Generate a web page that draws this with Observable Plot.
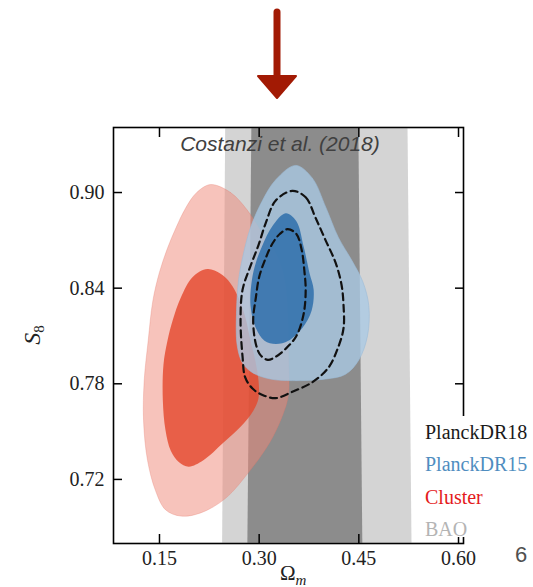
<!DOCTYPE html>
<html><head><meta charset="utf-8">
<script src="https://cdn.jsdelivr.net/npm/d3@7"></script>
<script src="https://cdn.jsdelivr.net/npm/@observablehq/plot@0.6"></script>
<style>
html,body{margin:0;padding:0;background:#fff;}
#wrap{position:relative;width:533px;height:587px;overflow:hidden;}
#arrow{position:absolute;left:0;top:0;}
</style></head><body>
<div id="wrap"></div>
<script>
// ---- data (Omega_m, S8) ----
const xTicks = [0.15, 0.30, 0.45, 0.60];
const yTicks = [0.72, 0.78, 0.84, 0.90];

const clusterOuter = [[0.227,0.905],[0.257,0.900],[0.282,0.889],[0.305,0.874],[0.326,0.861],[0.338,0.845],[0.343,0.820],[0.344,0.795],[0.344,0.773],[0.335,0.760],[0.317,0.744],[0.287,0.726],[0.249,0.708],[0.212,0.699],[0.182,0.697],[0.159,0.701],[0.144,0.713],[0.132,0.732],[0.126,0.757],[0.127,0.782],[0.133,0.807],[0.140,0.832],[0.150,0.850],[0.162,0.865],[0.175,0.878],[0.189,0.890],[0.206,0.900]];
const clusterInner = [[0.222,0.852],[0.242,0.849],[0.257,0.843],[0.269,0.834],[0.279,0.822],[0.287,0.807],[0.294,0.795],[0.299,0.782],[0.299,0.771],[0.291,0.763],[0.272,0.753],[0.246,0.743],[0.216,0.732],[0.194,0.728],[0.179,0.731],[0.167,0.738],[0.159,0.751],[0.155,0.770],[0.156,0.792],[0.162,0.807],[0.170,0.820],[0.182,0.834],[0.200,0.847]];
const dr15Outer = [[0.355,0.917],[0.380,0.909],[0.400,0.891],[0.419,0.872],[0.440,0.857],[0.456,0.844],[0.465,0.829],[0.463,0.810],[0.450,0.795],[0.430,0.786],[0.400,0.783],[0.350,0.782],[0.317,0.783],[0.290,0.787],[0.275,0.793],[0.267,0.804],[0.266,0.826],[0.269,0.845],[0.275,0.859],[0.287,0.878],[0.305,0.895],[0.325,0.908]];
const dr15Inner = [[0.340,0.887],[0.356,0.882],[0.367,0.866],[0.376,0.849],[0.382,0.839],[0.379,0.826],[0.365,0.815],[0.344,0.807],[0.325,0.805],[0.308,0.807],[0.295,0.815],[0.287,0.829],[0.289,0.845],[0.295,0.856],[0.305,0.867],[0.320,0.879]];
const dr18Outer = [[0.350,0.901],[0.370,0.897],[0.385,0.884],[0.400,0.870],[0.415,0.856],[0.424,0.842],[0.427,0.829],[0.427,0.815],[0.419,0.803],[0.404,0.790],[0.380,0.781],[0.350,0.775],[0.325,0.771],[0.305,0.773],[0.290,0.777],[0.279,0.784],[0.275,0.797],[0.272,0.820],[0.275,0.839],[0.287,0.854],[0.299,0.867],[0.310,0.881],[0.325,0.895]];
const dr18Inner = [[0.343,0.877],[0.356,0.874],[0.364,0.864],[0.368,0.851],[0.370,0.839],[0.367,0.824],[0.356,0.810],[0.340,0.802],[0.325,0.797],[0.313,0.795],[0.302,0.798],[0.295,0.805],[0.291,0.820],[0.295,0.834],[0.300,0.847],[0.310,0.859],[0.320,0.868],[0.331,0.874]];
const baoLight = [{s8:0.68, lo:0.245, hi:0.530},{s8:0.94, lo:0.2496, hi:0.524}];
const baoDark  = [{s8:0.68, lo:0.283, hi:0.456},{s8:0.94, lo:0.289, hi:0.450}];

const legendLabels = ["PlanckDR18","PlanckDR15","Cluster","BAO"];
const legendColors = ["#1a1a1a","#4f8dc0","#e41a1c","#b4b4b4"];
const titleText = "Costanzi et al. (2018)";
const slideNumber = "6";

const serif = "'Liberation Serif','Times New Roman',serif";
const sans = "'Liberation Sans',Arial,sans-serif";

const blob = (pts, o) => Plot.line(pts, {curve: "catmull-rom-closed", ...o});

const chart = Plot.plot({
  width: 533, height: 587,
  marginLeft: 113, marginRight: 70, marginTop: 127, marginBottom: 44,
  x: {domain: [0.0808, 0.6075]},
  y: {domain: [0.6798, 0.9408]},
  style: {fontFamily: serif, fontSize: "20px", color: "black", background: "transparent"},
  marks: [
    Plot.areaX(baoLight, {y: "s8", x1: "lo", x2: "hi", fill: "#d4d4d4"}),
    Plot.areaX(baoDark, {y: "s8", x1: "lo", x2: "hi", fill: "#8c8c8c"}),
    blob(clusterOuter, {fill: "#f08878", fillOpacity: 0.5, stroke: "#e47a6a", strokeOpacity: 0.5, strokeWidth: 0.6}),
    blob(clusterInner, {fill: "#e4492e", fillOpacity: 0.82, stroke: "none"}),
    blob(dr15Outer, {fill: "#a9c9e4", fillOpacity: 0.78, stroke: "#9cbcd8", strokeWidth: 0.6}),
    blob(dr15Inner, {fill: "#2e6fab", fillOpacity: 0.85, stroke: "none"}),
    blob(dr18Outer, {fill: "none", stroke: "#111", strokeWidth: 2.2, strokeDasharray: "7,4.5"}),
    blob(dr18Inner, {fill: "none", stroke: "#111", strokeWidth: 2.2, strokeDasharray: "7,4.5"}),
    Plot.frame({stroke: "black", strokeWidth: 1.6}),
    Plot.axisX({ticks: xTicks, anchor: "bottom", tickSize: -9, strokeWidth: 1.5, tickFormat: () => "", label: null}),
    Plot.axisX({ticks: xTicks, anchor: "top", tickSize: -9, strokeWidth: 1.5, tickFormat: () => "", label: null}),
    Plot.axisY({ticks: yTicks, anchor: "left", tickSize: -9, strokeWidth: 1.5, tickFormat: () => "", label: null}),
    Plot.axisY({ticks: yTicks, anchor: "right", tickSize: -9, strokeWidth: 1.5, tickFormat: () => "", label: null}),
    Plot.axisX({ticks: xTicks, anchor: "bottom", tickSize: 0, tickPadding: 7, tickFormat: ".2f", label: null, fill: "#222", fontSize: 20, fontFamily: serif}),
    Plot.axisY({ticks: yTicks, anchor: "left", tickSize: 0, tickPadding: 9, tickFormat: ".2f", label: null, fill: "#222", fontSize: 20, fontFamily: serif})
  ]
});

const svg = d3.select(chart);
// title
svg.append("text").attr("x", 280).attr("y", 151).attr("text-anchor", "middle")
  .attr("font-family", sans).attr("font-style", "italic").attr("font-size", 21).attr("fill", "#404040")
  .text(titleText);
// legend box + entries
svg.append("rect").attr("x", 418).attr("y", 416).attr("width", 115).attr("height", 121).attr("fill", "white");
legendLabels.forEach((t, i) => {
  svg.append("text").attr("x", 425).attr("y", 439 + i * 32.3).attr("text-anchor", "start")
    .attr("font-family", serif).attr("font-size", 20).attr("fill", legendColors[i]).text(t);
});
// axis labels
const yl = svg.append("text").attr("transform", "translate(40,335) rotate(-90)").attr("text-anchor", "middle")
  .attr("font-family", serif).attr("font-size", 24).attr("fill", "#222");
yl.append("tspan").attr("font-style", "italic").text("S");
yl.append("tspan").attr("font-size", 15).attr("dy", 4).text("8");
const xl = svg.append("text").attr("x", 280).attr("y", 580).attr("text-anchor", "start")
  .attr("font-family", serif).attr("font-size", 21).attr("fill", "#222");
xl.append("tspan").text("Ω");
xl.append("tspan").attr("font-size", 15).attr("font-style", "italic").attr("dy", 5).text("m");
// slide number
svg.append("text").attr("x", 521).attr("y", 562).attr("text-anchor", "middle")
  .attr("font-family", sans).attr("font-size", 22).attr("fill", "#505050").text(slideNumber);

const wrap = document.getElementById("wrap");
wrap.appendChild(chart);

// decorative arrow above the chart
const arrow = d3.create("svg").attr("id", "arrow").attr("width", 533).attr("height", 110);
arrow.append("line").attr("x1", 277).attr("y1", 12).attr("x2", 277).attr("y2", 80)
  .attr("stroke", "#a21a04").attr("stroke-width", 7).attr("stroke-linecap", "round");
arrow.append("path").attr("d", "M258,76 L296,76 L277,98 Z").attr("fill", "#a21a04")
  .attr("stroke", "#a21a04").attr("stroke-width", 2).attr("stroke-linejoin", "round");
wrap.appendChild(arrow.node());
</script>
</body></html>
